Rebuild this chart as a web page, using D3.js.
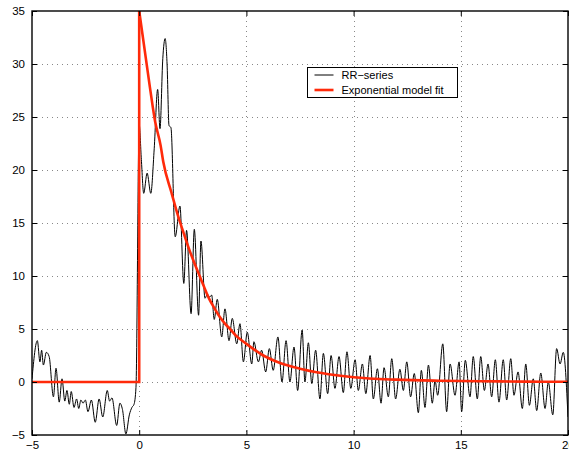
<!DOCTYPE html>
<html>
<head>
<meta charset="utf-8">
<script src="https://cdn.jsdelivr.net/npm/d3@7"></script>
<style>
  html, body { margin: 0; padding: 0; background: #fff; }
  svg { display: block; font-family: "Liberation Sans", Arial, Helvetica, sans-serif; }
</style>
</head>
<body>
<svg id="chart" width="569" height="454"></svg>
<script>
// ---- data ----
const xTicks = [-5, 0, 5, 10, 15, 20];
const yTicks = [-5, 0, 5, 10, 15, 20, 25, 30, 35];
const seriesNames = ["RR\u2212series", "Exponential model fit"];

// RR-series: x positions (local extremes of the oscillating trace)
const rrX = [
  -5.00, -4.75, -4.63, -4.55, -4.47, -4.33, -4.20, -4.00, -3.88, -3.73,
  -3.60, -3.47, -3.37, -3.26, -3.17, -3.04, -2.92, -2.82, -2.72, -2.62,
  -2.51, -2.39, -2.23, -2.05, -1.87, -1.70, -1.49, -1.38, -1.27, -1.05,
  -0.90, -0.78, -0.62, -0.46, -0.34, -0.24, -0.15, 0.00, 0.10, 0.21,
  0.37, 0.54, 0.70, 0.86, 0.97, 1.10, 1.21, 1.30, 1.39, 1.48,
  1.68, 1.90, 2.08, 2.21, 2.42, 2.57, 2.77, 2.88, 3.07, 3.18,
  3.28, 3.38, 3.50, 3.64, 3.85, 4.00, 4.19, 4.34, 4.55, 4.70,
  4.86, 5.04, 5.25, 5.35, 5.56, 5.71, 5.90, 6.07, 6.25, 6.47,
  6.66, 6.85, 7.03, 7.22, 7.39, 7.60, 7.73, 7.89, 8.05, 8.23,
  8.43, 8.59, 8.79, 8.95, 9.13, 9.32, 9.52, 9.69, 9.87, 10.07,
  10.22, 10.41, 10.57, 10.77, 10.92, 11.11, 11.28, 11.42, 11.62, 11.78,
  11.96, 12.16, 12.32, 12.48, 12.66, 12.83, 13.02, 13.16, 13.33, 13.49,
  13.67, 13.80, 13.92, 14.16, 14.34, 14.50, 14.73, 14.92, 15.04, 15.21,
  15.43, 15.58, 15.77, 15.93, 16.10, 16.27, 16.44, 16.61, 16.78, 16.98,
  17.14, 17.33, 17.48, 17.67, 17.87, 18.03, 18.20, 18.38, 18.54, 18.73,
  18.93, 19.08, 19.29, 19.47, 19.63, 19.78, 20.00
];
// RR-series: values
const rrY = [
  0.3, 3.9, 1.9, 3.0, 1.6, 2.8, 2.4, -1.4, 1.3, -1.9,
  0.3, -1.8, -0.8, -2.1, -0.9, -2.4, -1.6, -2.5, -1.7, -2.0,
  -1.7, -2.8, -1.7, -3.8, -1.6, -3.3, -0.8, -1.8, -1.5, -4.1,
  -2.0, -2.6, -4.9, -3.1, -2.4, -2.1, -0.5, 24.3, 21.0, 17.8,
  19.7, 17.8, 22.0, 27.6, 23.9, 30.5, 32.4, 30.0, 24.2, 24.0,
  13.7, 16.6, 9.3, 14.3, 6.45, 14.4, 6.3, 13.3, 7.9, 8.3,
  8.0, 8.2, 5.9, 7.8, 4.25, 6.9, 3.9, 6.0, 3.6, 5.5,
  1.9, 4.7, 1.7, 3.8, 1.9, 3.0, 0.95, 3.15, 1.1, 4.25,
  0.0, 3.9, 0.0, 3.3, -0.8, 4.9, 0.0, 3.7, -0.15, 3.0,
  -1.6, 2.7, -1.1, 2.5, -0.6, 2.4, -1.0, 2.85, -0.6, 2.1,
  -0.8, 1.7, -1.1, 2.5, -1.6, 1.25, -2.0, 1.35, -1.4, 2.2,
  -1.6, 1.2, -0.8, 1.9, -1.4, 0.8, -2.9, 1.1, -2.4, 1.6,
  -2.0, 0.15, -1.25, 3.6, -2.8, 1.7, -1.25, 1.9, -2.8, 2.05,
  -1.4, 2.4, -1.6, 2.4, -0.8, 1.7, -1.4, 2.1, -1.9, 2.1,
  -1.7, 2.2, -1.25, 0.95, -2.5, 1.7, -2.2, 0.3, -2.7, 0.85,
  -2.5, 0.0, -3.1, 3.15, 1.7, 2.8, -3.3
];

// Exponential model fit: flat part, jump, then decay
const fitStepX = [-5, 0, 0];
const fitStepY = [0, 0, 35];
const fitX = [0, 0.5, 0.74, 1.0, 1.12, 1.5, 1.9, 2.0, 2.37, 2.5, 2.84, 3.0, 3.3, 3.5, 3.77, 4.0, 4.24, 4.5, 5.0, 5.79, 6.57, 7.5, 8.5, 10, 12, 14, 16, 18, 20];
const fitY = [35, 27.8, 24.6, 22.3, 20.8, 17.9, 15.1, 14.5, 12.3, 11.6, 9.9, 9.1, 7.7, 7.0, 6.1, 5.5, 5.0, 4.4, 3.6, 2.5, 1.8, 1.26, 0.85, 0.45, 0.22, 0.12, 0.07, 0.04, 0.02];

// ---- drawing ----
const W = 569, H = 454;
const pL = 32, pR = 568, pT = 11, pB = 435;
const svg = d3.select("#chart");

const x = d3.scaleLinear().domain([-5, 20]).range([pL, pR]);
const y = d3.scaleLinear().domain([-5, 35]).range([pB, pT]);

svg.append("rect").attr("width", W).attr("height", H).attr("fill", "#fff");

svg.append("defs").append("clipPath").attr("id", "plotclip")
  .append("rect").attr("x", pL).attr("y", pT).attr("width", pR - pL).attr("height", pB - pT);

// grid
const grid = svg.append("g").attr("stroke", "#888").attr("stroke-width", 1).attr("stroke-dasharray", "1,4");
xTicks.filter(v => v > -5 && v < 20).forEach(v => {
  grid.append("line").attr("x1", Math.round(x(v)) + 0.5).attr("x2", Math.round(x(v)) + 0.5)
    .attr("y1", pT).attr("y2", pB);
});
yTicks.filter(v => v > -5 && v < 35).forEach(v => {
  grid.append("line").attr("y1", Math.round(y(v)) + 0.5).attr("y2", Math.round(y(v)) + 0.5)
    .attr("x1", pL).attr("x2", pR);
});

const plot = svg.append("g").attr("clip-path", "url(#plotclip)");

const rr = rrX.map((d, i) => [d, rrY[i]]);
plot.append("path").datum(rr)
  .attr("fill", "none").attr("stroke", "#000").attr("stroke-width", 1)
  .attr("d", d3.line().x(d => x(d[0])).y(d => y(d[1])).curve(d3.curveMonotoneX));

const red = "#ff2a0a";
plot.append("path").datum(fitStepX.map((d, i) => [d, fitStepY[i]]))
  .attr("fill", "none").attr("stroke", red).attr("stroke-width", 2.6)
  .attr("d", d3.line().x(d => x(d[0])).y(d => y(d[1])));
plot.append("path").datum(fitX.map((d, i) => [d, fitY[i]]))
  .attr("fill", "none").attr("stroke", red).attr("stroke-width", 2.6)
  .attr("d", d3.line().x(d => x(d[0])).y(d => y(d[1])).curve(d3.curveMonotoneX));

// axes
const fmt = v => (v < 0 ? "\u2212" + Math.abs(v) : String(v));
const axB = svg.append("g").attr("transform", `translate(0,${pB})`)
  .call(d3.axisBottom(x).tickValues(xTicks).tickSizeInner(-5).tickSizeOuter(0).tickPadding(6).tickFormat(fmt));
const axL = svg.append("g").attr("transform", `translate(${pL},0)`)
  .call(d3.axisLeft(y).tickValues(yTicks).tickSizeInner(-5).tickSizeOuter(0).tickPadding(7).tickFormat(fmt));
const axT = svg.append("g").attr("transform", `translate(0,${pT})`)
  .call(d3.axisTop(x).tickValues(xTicks).tickSizeInner(-5).tickSizeOuter(0).tickFormat(""));
const axR = svg.append("g").attr("transform", `translate(${pR},0)`)
  .call(d3.axisRight(y).tickValues(yTicks).tickSizeInner(-5).tickSizeOuter(0).tickFormat(""));
[axB, axL, axT, axR].forEach(g => {
  g.select(".domain").remove();
  g.selectAll("line").attr("stroke", "#000");
  g.selectAll("text").attr("fill", "#000").style("font-size", "11.5px")
    .style("font-family", "'Liberation Sans', Arial, Helvetica, sans-serif");
});

// box
svg.append("rect").attr("x", pL).attr("y", pT).attr("width", pR - pL).attr("height", pB - pT)
  .attr("fill", "none").attr("stroke", "#000").attr("stroke-width", 1.4);

// legend
const lg = svg.append("g").attr("transform", "translate(307.5,67.5)");
lg.append("rect").attr("width", 150).attr("height", 30).attr("fill", "#fff").attr("stroke", "#000").attr("stroke-width", 1);
const legendColors = ["#000", red];
const legendWidths = [1, 2.6];
seriesNames.forEach((name, i) => {
  const yy = 7.5 + i * 15;
  lg.append("line").attr("x1", 7).attr("x2", 26).attr("y1", yy).attr("y2", yy)
    .attr("stroke", legendColors[i]).attr("stroke-width", legendWidths[i]);
  lg.append("text").attr("x", 34).attr("y", yy).attr("dy", "0.35em")
    .style("font-size", "11px").attr("fill", "#000").text(name);
});
</script>
</body>
</html>
